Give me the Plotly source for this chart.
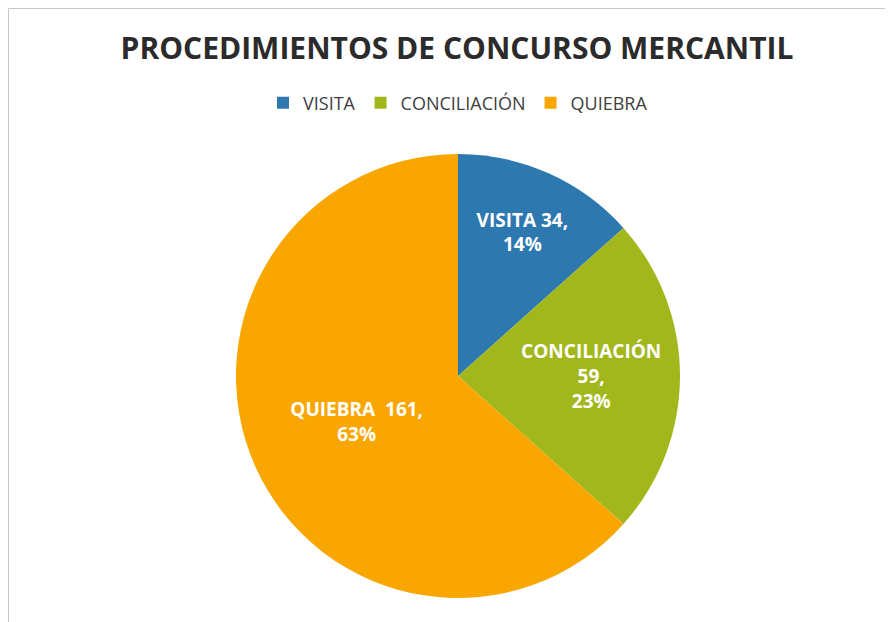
import plotly.graph_objects as go

categories = ["VISITA", "CONCILIACIÓN", "QUIEBRA"]
values = [34, 59, 161]
pct_labels = ["14%", "23%", "63%"]
slice_text = ["VISITA 34,<br>14%", "CONCILIACIÓN<br>59,<br>23%", "QUIEBRA  161,<br>63%"]
colors = ["#2E78B0", "#A2B71C", "#FAA600"]

W, H = 893, 622
OFF = 8  # page body margin shifts the figure by 8px
cx, cy, r = 458 - OFF, 376 - OFF, 222

fig = go.Figure(
    go.Pie(
        labels=categories,
        values=values,
        text=slice_text,
        customdata=pct_labels,
        textinfo="text",
        textposition="inside",
        insidetextorientation="horizontal",
        insidetextfont=dict(family="Open Sans", size=19, color="white", weight="bold"),
        marker=dict(colors=colors, line=dict(width=0)),
        sort=False,
        direction="clockwise",
        rotation=0,
        domain=dict(x=[(cx - r) / W, (cx + r) / W], y=[1 - (cy + r) / H, 1 - (cy - r) / H]),
        hovertemplate="%{label}: %{value} (%{customdata})<extra></extra>",
    )
)

fig.update_layout(
    width=W,
    height=H,
    margin=dict(l=0, r=0, t=0, b=0),
    paper_bgcolor="white",
    title=dict(
        text="<b>PROCEDIMIENTOS DE CONCURSO MERCANTIL</b>",
        x=(457 - OFF) / W,
        xanchor="center",
        y=1 - (48 - OFF) / H,
        yanchor="middle",
        font=dict(family="Open Sans", size=30, color="#2B2B2B"),
    ),
    legend=dict(
        orientation="h",
        x=(458 - OFF) / W,
        xanchor="center",
        y=1 - (103 - OFF) / H,
        yanchor="middle",
        font=dict(family="Open Sans", size=18, color="#404040"),
        itemwidth=30,
    ),
    shapes=[
        dict(
            type="rect", xref="paper", yref="paper",
            x0=0.5 / W, x1=(891 - OFF) / W, y0=1 - (630 - OFF) / H, y1=1 - 0.5 / H,
            line=dict(color="#C8C8C8", width=1),
        )
    ],
)

fig.write_html("out.html")
